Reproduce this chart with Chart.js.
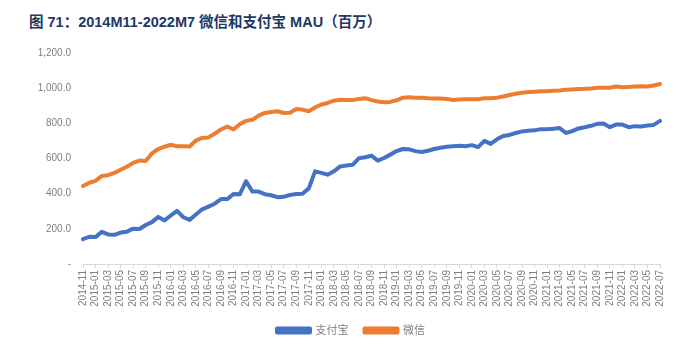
<!DOCTYPE html>
<html>
<head>
<meta charset="utf-8">
<script src="https://cdn.jsdelivr.net/npm/chart.js@4"></script>
<style>
  html, body { margin: 0; padding: 0; background: #fff; }
  #wrap { position: relative; width: 698px; height: 356px; }
  #title { position: absolute; left: 29px; top: 10px; font: bold 14.5px "Liberation Sans", "Noto Sans CJK SC", sans-serif; color: #1f3864; white-space: nowrap; }
  canvas { position: absolute; left: 0; top: 0; }
</style>
</head>
<body>
<div id="wrap">
  <div id="title">图 71：2014M11-2022M7 微信和支付宝 MAU（百万）</div>
  <canvas id="c" width="698" height="356"></canvas>
</div>
<script>
// Months 2014-11 .. 2022-07
const months = [];
for (let y = 2014, m = 11; y < 2022 || (y === 2022 && m <= 7); ) {
  months.push(y + '-' + String(m).padStart(2, '0'));
  m++; if (m > 12) { m = 1; y++; }
}

const alipayMAU = [141,155,153,183,168,166,179,184,201,199,
  222,238,268,248,276,302,266,251,281,311,
  326,343,369,369,398,396,471,412,412,397,
  391,380,382,393,398,400,430,527,518,508,
  527,555,560,564,602,607,616,588,603,622,
  642,654,652,642,637,644,654,661,667,670,
  672,670,676,665,700,683,709,728,734,745,
  754,758,760,767,767,769,773,745,756,771,
  778,786,797,799,778,793,793,778,784,782,
  788,791,814];

const wechatMAU = [443,462,473,501,505,518,536,553,575,588,
  586,629,654,667,678,670,670,668,702,717,
  720,741,765,782,765,795,814,820,844,859,
  865,869,859,860,881,878,869,890,907,916,
  929,934,932,932,939,943,932,924,920,922,
  931,946,948,946,946,943,941,941,939,933,
  935,937,937,937,943,943,946,953,961,968,
  974,978,980,982,983,985,987,991,993,995,
  996,998,1002,1002,1002,1009,1005,1007,1009,1011,
  1009,1015,1024];

const seriesNames = ['支付宝', '微信'];
const yTicks = [0, 200, 400, 600, 800, 1000, 1200];

const gray = '#7f7f7f';
const fontFam = '"Liberation Sans", "Noto Sans CJK SC", sans-serif';

function fmt(v) {
  if (v === 0) return '-';
  return v.toLocaleString('en-US', { minimumFractionDigits: 1, maximumFractionDigits: 1 });
}

const legendShift = {
  id: 'legendShift',
  afterLayout(chart) {
    if (chart.legend) { chart.legend.left += 21; chart.legend.right += 21; }
  }
};

new Chart(document.getElementById('c'), {
  type: 'line',
  data: {
    labels: months,
    datasets: [
      { label: seriesNames[0], data: alipayMAU, borderColor: '#4472c4', backgroundColor: '#4472c4', borderWidth: 4, pointRadius: 0, tension: 0, borderCapStyle: 'round', borderJoinStyle: 'round' },
      { label: seriesNames[1], data: wechatMAU, borderColor: '#ed7d31', backgroundColor: '#ed7d31', borderWidth: 4, pointRadius: 0, tension: 0, borderCapStyle: 'round', borderJoinStyle: 'round' }
    ]
  },
  plugins: [legendShift],
  options: {
    responsive: false,
    animation: false,
    layout: { padding: { left: 0, right: 38, top: 53, bottom: 10 } },
    plugins: {
      title: { display: false },
      tooltip: { enabled: false },
      legend: {
        position: 'bottom',
        labels: {
          boxWidth: 33, boxHeight: 4, padding: 16,
          color: gray,
          font: { family: fontFam, size: 11 }
        }
      }
    },
    scales: {
      x: {
        type: 'category',
        offset: false,
        border: { display: true, color: '#d9d9d9', width: 1 },
        grid: {
          display: true, drawOnChartArea: false, drawTicks: true, tickLength: 4,
          color: (ctx) => (ctx.index % 2 === 0 ? '#d9d9d9' : 'rgba(0,0,0,0)')
        },
        ticks: {
          autoSkip: false, minRotation: 90, maxRotation: 90, padding: 2,
          color: gray, font: { family: fontFam, size: 10 },
          callback: function (val, idx) { return idx % 2 === 0 ? months[idx] : ''; }
        },
        afterFit: (s) => { s.height = 45; }
      },
      y: {
        min: 0, max: 1200,
        afterBuildTicks: (s) => { s.ticks = yTicks.map(v => ({ value: v })); },
        border: { display: false },
        grid: { display: false, drawTicks: false },
        ticks: {
          padding: 12, color: gray, font: { family: fontFam, size: 10 },
          callback: (v) => fmt(v)
        },
        afterFit: (s) => { s.width = 83; }
      }
    }
  }
});
</script>
</body>
</html>
